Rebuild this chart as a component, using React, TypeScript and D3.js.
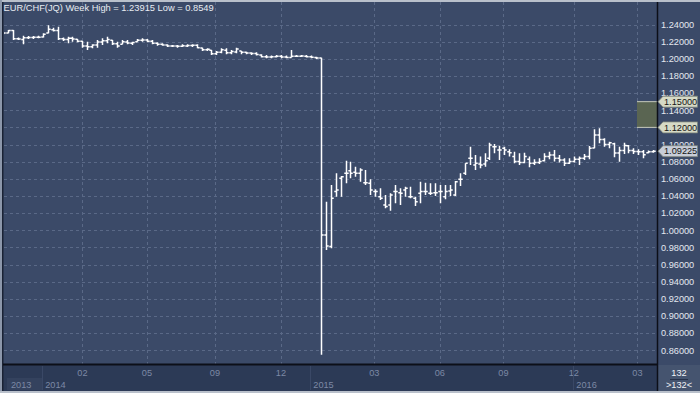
import React from "react";
import * as d3 from "d3";

const title = "EUR/CHF(JQ) Week High = 1.23915 Low = 0.8549";

const opens = [
  1.2292, 1.2300, 1.2330, 1.2235, 1.2225, 1.2245, 1.2248, 1.2250, 1.2255, 1.2300,
  1.2340, 1.2330, 1.2235, 1.2225, 1.2240, 1.2228, 1.2205, 1.2150, 1.2140, 1.2160,
  1.2195, 1.2210, 1.2215, 1.2175, 1.2170, 1.2195, 1.2180, 1.2200, 1.2215, 1.2220,
  1.2205, 1.2180, 1.2170, 1.2160, 1.2150, 1.2148, 1.2145, 1.2150, 1.2155, 1.2158,
  1.2125, 1.2105, 1.2100, 1.2060, 1.2075, 1.2100, 1.2070, 1.2080, 1.2090, 1.2075,
  1.2068, 1.2062, 1.2045, 1.2025, 1.2020, 1.2025, 1.2030, 1.2020, 1.2015, 1.2030,
  1.2030, 1.2030, 1.2025, 1.2015, 1.2010, 0.9945, 0.9810, 1.0451, 1.0606, 1.0664,
  1.0695, 1.0676, 1.0664, 1.0555, 1.0548, 1.0451, 1.0392, 1.0295, 1.0295, 1.0451,
  1.0439, 1.0470, 1.0392, 1.0373, 1.0431, 1.0451, 1.0431, 1.0439, 1.0451, 1.0392,
  1.0459, 1.0412, 1.0594, 1.0664, 1.0839, 1.0761, 1.0773, 1.0773, 1.0839, 1.0975,
  1.0936, 1.0956, 1.0917, 1.0859, 1.0801, 1.0789, 1.0828, 1.0781, 1.0789, 1.0810,
  1.0859, 1.0878, 1.0839, 1.0820, 1.0781, 1.0801, 1.0828, 1.0839, 1.0859, 1.0960,
  1.1111, 1.1060, 1.1000, 1.1010, 1.0900, 1.0930, 1.0985, 1.0930, 1.0920, 1.0915,
  1.0905, 1.0915,
];
const highs = [
  1.2305, 1.2336, 1.2336, 1.2247, 1.2270, 1.2266, 1.2266, 1.2270, 1.2297, 1.23915,
  1.2363, 1.2375, 1.2247, 1.2258, 1.2258, 1.2231, 1.2208, 1.2200, 1.2169, 1.2219,
  1.2239, 1.2258, 1.2219, 1.2200, 1.2219, 1.2219, 1.2200, 1.2231, 1.2239, 1.2231,
  1.2219, 1.2192, 1.2181, 1.2169, 1.2161, 1.2161, 1.2169, 1.2169, 1.2169, 1.2169,
  1.2130, 1.2122, 1.2103, 1.2091, 1.2122, 1.2122, 1.2103, 1.2130, 1.2091, 1.2083,
  1.2076, 1.2076, 1.2052, 1.2045, 1.2037, 1.2045, 1.2045, 1.2037, 1.2103, 1.2045,
  1.2045, 1.2045, 1.2037, 1.2025, 1.2013, 1.0334, 1.0529, 1.0664, 1.0633, 1.0812,
  1.0800, 1.0742, 1.0723, 1.0703, 1.0594, 1.0478, 1.0489, 1.0412, 1.0431, 1.0528,
  1.0489, 1.0509, 1.0509, 1.0392, 1.0567, 1.0555, 1.0548, 1.0548, 1.0528, 1.0528,
  1.0528, 1.0575, 1.0664, 1.0781, 1.0975, 1.0878, 1.0859, 1.0898, 1.1020, 1.1005,
  1.0985, 1.0975, 1.0944, 1.0917, 1.0898, 1.0905, 1.0859, 1.0828, 1.0839, 1.0898,
  1.0917, 1.0937, 1.0878, 1.0839, 1.0839, 1.0859, 1.0859, 1.0890, 1.0983, 1.1178,
  1.1189, 1.1073, 1.1033, 1.1022, 1.0975, 1.1022, 1.0995, 1.0956, 1.0944, 1.0937,
  1.0929, 1.0937,
];
const lows = [
  1.2286, 1.2297, 1.2219, 1.2219, 1.2169, 1.2231, 1.2231, 1.2239, 1.2247, 1.2297,
  1.2317, 1.2219, 1.2208, 1.2181, 1.2200, 1.2192, 1.2130, 1.2103, 1.2122, 1.2130,
  1.2161, 1.2181, 1.2161, 1.2130, 1.2169, 1.2169, 1.2161, 1.2200, 1.2200, 1.2192,
  1.2169, 1.2153, 1.2153, 1.2138, 1.2138, 1.2130, 1.2138, 1.2138, 1.2138, 1.2122,
  1.2091, 1.2091, 1.2045, 1.2045, 1.2064, 1.2052, 1.2052, 1.2064, 1.2052, 1.2052,
  1.2045, 1.2037, 1.2014, 1.2006, 1.2006, 1.2014, 1.2006, 1.2006, 1.2014, 1.2021,
  1.2021, 1.2014, 1.2006, 1.1998, 0.8549, 0.9770, 0.9790, 1.0392, 1.0392, 1.0548,
  1.0606, 1.0625, 1.0567, 1.0528, 1.0412, 1.0392, 1.0353, 1.0256, 1.0229, 1.0314,
  1.0295, 1.0392, 1.0373, 1.0283, 1.0314, 1.0412, 1.0412, 1.0400, 1.0314, 1.0361,
  1.0400, 1.0400, 1.0517, 1.0645, 1.0761, 1.0703, 1.0723, 1.0742, 1.0820, 1.0898,
  1.0820, 1.0878, 1.0859, 1.0781, 1.0762, 1.0781, 1.0734, 1.0762, 1.0773, 1.0801,
  1.0828, 1.0801, 1.0789, 1.0750, 1.0773, 1.0789, 1.0762, 1.0820, 1.0828, 1.0956,
  1.1014, 1.0975, 1.0956, 1.0851, 1.0800, 1.0890, 1.0898, 1.0890, 1.0878, 1.0840,
  1.0898, 1.0905,
];
const closes = [
  1.2300, 1.2330, 1.2235, 1.2232, 1.2245, 1.2248, 1.2250, 1.2252, 1.2285, 1.2345,
  1.2330, 1.2235, 1.2225, 1.2240, 1.2230, 1.2205, 1.2150, 1.2140, 1.2160, 1.2195,
  1.2210, 1.2225, 1.2175, 1.2150, 1.2200, 1.2185, 1.2190, 1.2215, 1.2220, 1.2205,
  1.2180, 1.2170, 1.2160, 1.2150, 1.2148, 1.2145, 1.2152, 1.2155, 1.2158, 1.2130,
  1.2105, 1.2110, 1.2060, 1.2075, 1.2105, 1.2070, 1.2085, 1.2115, 1.2075, 1.2068,
  1.2062, 1.2050, 1.2025, 1.2020, 1.2025, 1.2030, 1.2020, 1.2015, 1.2030, 1.2030,
  1.2032, 1.2025, 1.2018, 1.2010, 0.9945, 0.9817, 1.0373, 1.0470, 1.0625, 1.0664,
  1.0664, 1.0664, 1.0703, 1.0555, 1.0470, 1.0451, 1.0373, 1.0276, 1.0412, 1.0451,
  1.0431, 1.0489, 1.0392, 1.0334, 1.0451, 1.0451, 1.0431, 1.0439, 1.0451, 1.0451,
  1.0470, 1.0567, 1.0594, 1.0781, 1.0839, 1.0781, 1.0761, 1.0812, 1.0995, 1.0975,
  1.0936, 1.0937, 1.0905, 1.0801, 1.0789, 1.0859, 1.0781, 1.0789, 1.0801, 1.0859,
  1.0878, 1.0839, 1.0820, 1.0781, 1.0801, 1.0828, 1.0839, 1.0859, 1.0956, 1.1111,
  1.1060, 1.1000, 1.1020, 1.0900, 1.0930, 1.0990, 1.0930, 1.0920, 1.0915, 1.0880,
  1.0915, 1.09225,
];

const yTicks = [1.24, 1.22, 1.2, 1.18, 1.16, 1.14, 1.12, 1.1, 1.08, 1.06, 1.04, 1.02, 1.0, 0.98, 0.96, 0.94, 0.92, 0.9, 0.88, 0.86];
const monthLabels = ["02", "05", "09", "12", "03", "06", "09", "12", "03"];
const monthIdx = [16, 29, 42.7, 56, 74.8, 88, 100.8, 115, 127.8];
const yearLabels = ["2014", "2015", "2016"];
const yearIdx = [8, 62, 115];
const firstYear = "2013";
const zoneHigh = 1.15;
const zoneLow = 1.12;
const lastPrice = 1.09225;
const barCount = "132";
const barCountSub = ">132<";

const W = 700;
const H = 393;
const PL = 4, PR = 657, PT = 2, PB = 364;
const FONT = "'Liberation Sans', Arial, sans-serif";

export default function App() {
  const n = closes.length;
  const x = d3.scaleLinear().domain([0, n - 1]).range([3, 653.3]);
  const y = d3.scaleLinear().domain([0.86, 1.24]).range([350.3, 24.5]);

  const barPath = d3.path();
  for (let i = 0; i < n; i++) {
    const cx = Math.round(x(i)) + 0.5;
    barPath.moveTo(cx, y(highs[i]));
    barPath.lineTo(cx, y(lows[i]));
    barPath.moveTo(cx - 2.2, y(opens[i]));
    barPath.lineTo(cx, y(opens[i]));
    barPath.moveTo(cx, y(closes[i]));
    barPath.lineTo(cx + 2.2, y(closes[i]));
  }

  const tag = (v: number, fill: string, key: string) => {
    const yc = y(v);
    const p = d3.path();
    p.moveTo(658, yc);
    p.lineTo(663, yc - 5.5);
    p.lineTo(697.5, yc - 5.5);
    p.lineTo(697.5, yc + 5.5);
    p.lineTo(663, yc + 5.5);
    p.closePath();
    return (
      <g key={key}>
        <path d={p.toString()} fill={fill} stroke="#7d8478" strokeWidth={0.8} />
        <text x={664} y={yc + 3.3} fontSize={9.2} fill="#151515" fontFamily={FONT}>
          {v.toFixed(5)}
        </text>
      </g>
    );
  };

  return (
    <svg width={W} height={H} style={{ position: "absolute", left: 0, top: 0, display: "block" }}>
      <defs>
        <clipPath id="plot">
          <rect x={PL} y={PT} width={PR - PL} height={PB - PT} />
        </clipPath>
      </defs>
      <rect x={0} y={0} width={W} height={H} fill="#3b4a68" />
      {/* bottom axis panel */}
      <rect x={3} y={PB + 1} width={PR - 3} height={26} fill="#2c3a56" />
      <rect x={7} y={378} width={35} height={12} fill="#34425e" />
      {/* bottom-right box */}
      <rect x={658} y={PB + 1} width={42} height={26} fill="#45546f" />
      {/* horizontal grid */}
      <g stroke="#5a6987" strokeWidth={1} strokeDasharray="3,3">
        {yTicks.map((t) => (
          <line key={t} x1={PL} x2={PR} y1={Math.round(y(t)) + 0.5} y2={Math.round(y(t)) + 0.5} />
        ))}
        {monthIdx.map((m, i) => (
          <line key={"v" + i} x1={Math.round(x(m)) + 0.5} x2={Math.round(x(m)) + 0.5} y1={PT} y2={PB} />
        ))}
      </g>
      {/* bars */}
      <g clipPath="url(#plot)">
        <path d={barPath.toString()} stroke="#ffffff" strokeWidth={1.5} fill="none" />
      </g>
      {/* zone box */}
      <rect x={637} y={y(zoneHigh)} width={PR - 637} height={y(zoneLow) - y(zoneHigh)} fill="#5a6552" />
      <line x1={637} x2={PR} y1={y(zoneHigh)} y2={y(zoneHigh)} stroke="#c5c9bc" strokeWidth={1} />
      <line x1={637} x2={PR} y1={y(zoneLow)} y2={y(zoneLow)} stroke="#c5c9bc" strokeWidth={1} />
      {/* frame */}
      <rect x={0} y={0} width={W} height={2} fill="#b9c0cb" />
      <rect x={0} y={0} width={2} height={H} fill="#8c97aa" />
      <rect x={2} y={2} width={1.5} height={H - 4} fill="#1a2234" />
      <rect x={0} y={H - 2} width={W} height={2} fill="#b9c0cb" />
      <line x1={PR + 0.5} x2={PR + 0.5} y1={PT} y2={H - 2} stroke="#0c0f18" strokeWidth={1.5} />
      <line x1={3} x2={PR} y1={PB + 0.5} y2={PB + 0.5} stroke="#0c0f18" strokeWidth={2} />
      {/* title */}
      <text x={3.5} y={11} fontSize={9.3} fill="#e8ecf2" fontFamily={FONT}>
        {title}
      </text>
      {/* y labels */}
      <g fontSize={9.2} fill="#e4e8f0" fontFamily={FONT}>
        {yTicks.map((t) => (
          <text key={t} x={661} y={y(t) + 3.3}>
            {t.toFixed(5)}
          </text>
        ))}
      </g>
      {tag(zoneHigh, "#d6dac6", "zh")}
      {tag(zoneLow, "#d6dac6", "zl")}
      {tag(lastPrice, "#c8cdd8", "lp")}
      {/* x labels */}
      <g fontSize={9.2} fill="#7c89a5" fontFamily={FONT}>
        {monthLabels.map((m, i) => (
          <text key={"m" + i} x={x(monthIdx[i])} y={376} textAnchor="middle">
            {m}
          </text>
        ))}
        <text x={11} y={387.5}>{firstYear}</text>
        {yearLabels.map((yl, i) => (
          <text key={yl} x={x(yearIdx[i]) + 2.5} y={387.5}>
            {yl}
          </text>
        ))}
      </g>
      <g stroke="#3a4866" strokeWidth={1}>
        {yearIdx.map((yi, i) => (
          <line key={"s" + i} x1={Math.round(x(yi)) - 0.5} x2={Math.round(x(yi)) - 0.5} y1={PB + 2} y2={H - 3} />
        ))}
      </g>
      {/* count box */}
      <text x={679} y={376} fontSize={9.2} fill="#f0f2f6" textAnchor="middle" fontFamily={FONT}>
        {barCount}
      </text>
      <line x1={670} x2={688} y1={379.5} y2={379.5} stroke="#27324a" strokeWidth={1} />
      <text x={679} y={388} fontSize={9.2} fill="#f0f2f6" textAnchor="middle" fontFamily={FONT}>
        {barCountSub}
      </text>
    </svg>
  );
}
